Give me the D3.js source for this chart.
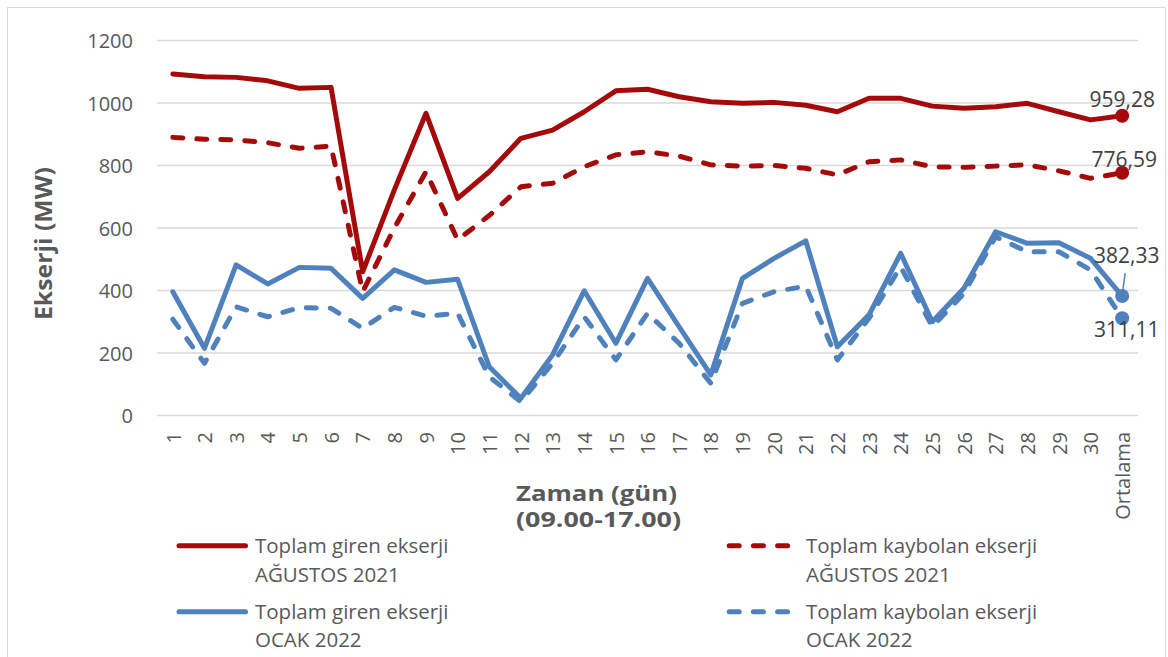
<!DOCTYPE html>
<html>
<head>
<meta charset="utf-8">
<script src="https://cdn.jsdelivr.net/npm/d3@7"></script>
<style>
  html, body { margin: 0; padding: 0; background: #ffffff; }
  svg { display: block; }
  text { font-family: "Open Sans", "DejaVu Sans", sans-serif; }
</style>
</head>
<body>
<svg id="chart" width="1168" height="657"></svg>
<script>
// Day labels on the x axis (last one is the monthly mean)
const categories = ["1","2","3","4","5","6","7","8","9","10","11","12","13","14","15",
  "16","17","18","19","20","21","22","23","24","25","26","27","28","29","30","Ortalama"];

// Exergy values, MW
const girenAgustos2021 = [1093,1084,1082,1071,1047,1050,460,722,967,695,780,887,913,972,1039,
  1044,1020,1004,999,1002,993,972,1015,1015,990,983,988,999,972,946,959.28];
const kaybolanAgustos2021 = [890,884,882,873,855,862,396,600,780,562,640,732,743,796,834,
  844,830,802,798,800,791,770,812,818,796,794,798,802,783,759,776.59];
const girenOcak2022 = [396,215,482,421,474,471,375,466,426,436,156,55,194,399,231,
  439,284,130,439,503,559,220,322,519,300,407,588,551,553,503,382.33];
const kaybolanOcak2022 = [308,167,348,316,345,343,279,346,318,327,124,44,167,316,178,
  327,231,103,359,396,414,178,311,476,284,391,572,524,524,466,311.11];

const yTicks = [0, 200, 400, 600, 800, 1000, 1200];

const seriesNames = [
  ["Toplam giren ekserji", "AĞUSTOS 2021"],
  ["Toplam kaybolan ekserji", "AĞUSTOS 2021"],
  ["Toplam giren ekserji", "OCAK 2022"],
  ["Toplam kaybolan ekserji", "OCAK 2022"]
];

const RED = "#A50A0A";
const BLUE = "#4F81BD";
const series = [
  { name: seriesNames[0], values: girenAgustos2021, color: RED, dashed: false, lab: { dx: 0, dy: -9 } },
  { name: seriesNames[1], values: kaybolanAgustos2021, color: RED, dashed: true, lab: { dx: 2, dy: -6 } },
  { name: seriesNames[2], values: girenOcak2022, color: BLUE, dashed: false, lab: { dx: 4.5, dy: -33.5 }, leader: true },
  { name: seriesNames[3], values: kaybolanOcak2022, color: BLUE, dashed: true, lab: { dx: 4.5, dy: 19 } }
];

const svg = d3.select("#chart");

// chart frame
svg.append("rect")
  .attr("x", 7.5).attr("y", 7.5)
  .attr("width", 1158).attr("height", 660)
  .attr("fill", "none").attr("stroke", "#d9d9d9").attr("stroke-width", 1);

const plot = { left: 157, right: 1138, top: 40.5, bottom: 415.5 };

const x = d3.scalePoint().domain(categories).range([plot.left, plot.right]).padding(0.5);
const y = d3.scaleLinear().domain([0, 1200]).range([plot.bottom, plot.top]);

// horizontal gridlines
svg.append("g").selectAll("line").data(yTicks).join("line")
  .attr("x1", plot.left).attr("x2", plot.right)
  .attr("y1", d => y(d)).attr("y2", d => y(d))
  .attr("stroke", "#d9d9d9").attr("stroke-width", 1.5);

// y axis labels
const yAxis = d3.axisLeft(y).tickValues(yTicks).tickFormat(d3.format("d")).tickSize(0).tickPadding(0);
const gy = svg.append("g").attr("transform", "translate(133,0)").call(yAxis);
gy.select(".domain").remove();
gy.selectAll("text")
  .attr("font-family", "Open Sans").attr("font-size", 20).attr("fill", "#595959")
  .attr("dy", "0.36em");

// x axis labels, rotated
const xAxis = d3.axisBottom(x).tickSize(0).tickPadding(0);
const gx = svg.append("g").attr("transform", `translate(0,${plot.bottom})`).call(xAxis);
gx.select(".domain").remove();
gx.selectAll("text")
  .attr("font-family", "Open Sans").attr("font-size", 20).attr("fill", "#595959")
  .attr("text-anchor", "end")
  .attr("transform", "translate(0,16.5) rotate(-90)")
  .attr("x", 0).attr("y", 0).attr("dy", "0.36em");

// axis titles
svg.append("text")
  .attr("transform", "translate(51.5,243.5) rotate(-90)")
  .attr("text-anchor", "middle")
  .attr("font-size", 23).attr("font-weight", "bold").attr("fill", "#595959")
  .attr("textLength", 153).attr("lengthAdjust", "spacingAndGlyphs")
  .text("Ekserji (MW)");

svg.append("text")
  .attr("x", 596.5).attr("y", 501)
  .attr("text-anchor", "middle")
  .attr("font-size", 21).attr("font-weight", "bold").attr("fill", "#595959")
  .attr("textLength", 161).attr("lengthAdjust", "spacingAndGlyphs")
  .text("Zaman (gün)");
svg.append("text")
  .attr("x", 598.5).attr("y", 527)
  .attr("text-anchor", "middle")
  .attr("font-size", 21).attr("font-weight", "bold").attr("fill", "#595959")
  .attr("textLength", 165).attr("lengthAdjust", "spacingAndGlyphs")
  .text("(09.00-17.00)");

// series lines
const line = d3.line()
  .x((d, i) => x(categories[i]))
  .y(d => y(d));

const gLines = svg.append("g");
series.forEach(s => {
  gLines.append("path")
    .datum(s.values)
    .attr("d", line)
    .attr("fill", "none")
    .attr("stroke", s.color)
    .attr("stroke-width", 5)
    .attr("stroke-linejoin", "round")
    .attr("stroke-linecap", "round")
    .attr("stroke-dasharray", s.dashed ? "10,14" : null);
});

// mean markers and value labels
const fmt = v => d3.format(".2f")(v).replace(".", ",");
const last = categories.length - 1;
series.forEach(s => {
  const cx = x(categories[last]);
  const cy = y(s.values[last]);
  svg.append("circle")
    .attr("cx", cx).attr("cy", cy).attr("r", 7)
    .attr("fill", s.color);
  if (s.leader) {
    svg.append("line")
      .attr("x1", cx + 3).attr("y1", cy + s.lab.dy + 10.5)
      .attr("x2", cx + 0.5).attr("y2", cy - 5)
      .attr("stroke", s.color).attr("stroke-width", 1.5);
  }
  svg.append("text")
    .attr("x", cx + s.lab.dx).attr("y", cy + s.lab.dy)
    .attr("text-anchor", "middle")
    .attr("font-size", 21).attr("fill", "#404040")
    .text(fmt(s.values[last]));
});

// legend
const legendPos = [
  { lx1: 179, lx2: 245.5, ly: 545.7, tx: 255, ty: 553.3 },
  { lx1: 729.2, lx2: 789.2, ly: 545.7, tx: 806, ty: 553.3 },
  { lx1: 179, lx2: 245.5, ly: 611.7, tx: 255, ty: 618.8 },
  { lx1: 729.2, lx2: 789.2, ly: 611.7, tx: 806, ty: 618.8 }
];
const gLeg = svg.append("g");
series.forEach((s, i) => {
  const p = legendPos[i];
  gLeg.append("line")
    .attr("x1", p.lx1).attr("x2", p.lx2).attr("y1", p.ly).attr("y2", p.ly)
    .attr("stroke", s.color).attr("stroke-width", 5)
    .attr("stroke-linecap", "round")
    .attr("stroke-dasharray", s.dashed ? "10,14.2" : null);
  const t = gLeg.append("text")
    .attr("x", p.tx).attr("y", p.ty)
    .attr("font-size", 20.5).attr("fill", "#595959");
  t.append("tspan").attr("x", p.tx).text(s.name[0]);
  t.append("tspan").attr("x", p.tx).attr("dy", 28.4).text(s.name[1]);
});
</script>
</body>
</html>
